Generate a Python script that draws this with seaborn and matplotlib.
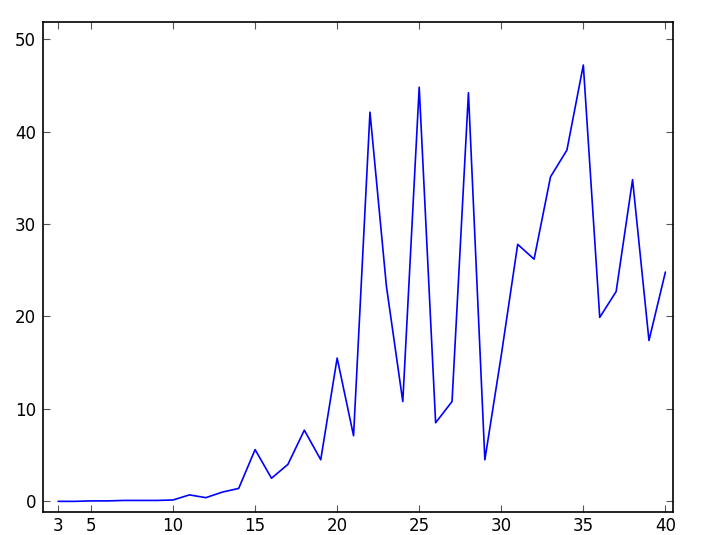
import matplotlib
matplotlib.use("Agg")
import matplotlib.pyplot as plt
import pandas as pd
import seaborn as sns

x_values = list(range(3, 41))
y_values = [
    0.0, 0.0, 0.05, 0.05, 0.1, 0.1, 0.1, 0.15, 0.7, 0.4,
    1.0, 1.4, 5.6, 2.5, 4.0, 7.7, 4.5, 15.5, 7.1, 42.1,
    23.3, 10.8, 44.8, 8.5, 10.8, 44.2, 4.5, 15.8, 27.8, 26.2,
    35.1, 38.0, 47.2, 19.9, 22.7, 34.8, 17.4, 24.8,
]
x_ticks = [3, 5, 10, 15, 20, 25, 30, 35, 40]
y_ticks = [0, 10, 20, 30, 40, 50]

df = pd.DataFrame({"x": x_values, "y": y_values})

sns.set_style("ticks")
plt.rcParams["font.family"] = ["DejaVu Sans"]

fig = plt.figure(figsize=(7.03, 5.35), dpi=100)
ax = fig.add_axes([0.061, 0.043, 0.896, 0.916])
sns.lineplot(data=df, x="x", y="y", color="blue", linewidth=1.2, ax=ax)

ax.set_xlim(2.07, 40.45)
ax.set_ylim(-1.15, 51.86)
ax.set_xticks(x_ticks)
ax.set_yticks(y_ticks)
ax.set_xlabel("")
ax.set_ylabel("")
ax.tick_params(direction="in", length=5, width=0.8, colors="#555555",
               labelcolor="black", labelsize=12, top=True, right=True, pad=5)
ax.tick_params(axis="x", pad=3.5)
for spine in ax.spines.values():
    spine.set_visible(True)
    spine.set_color("black")
    spine.set_linewidth(1.2)

fig.savefig("out.png", dpi=100)
